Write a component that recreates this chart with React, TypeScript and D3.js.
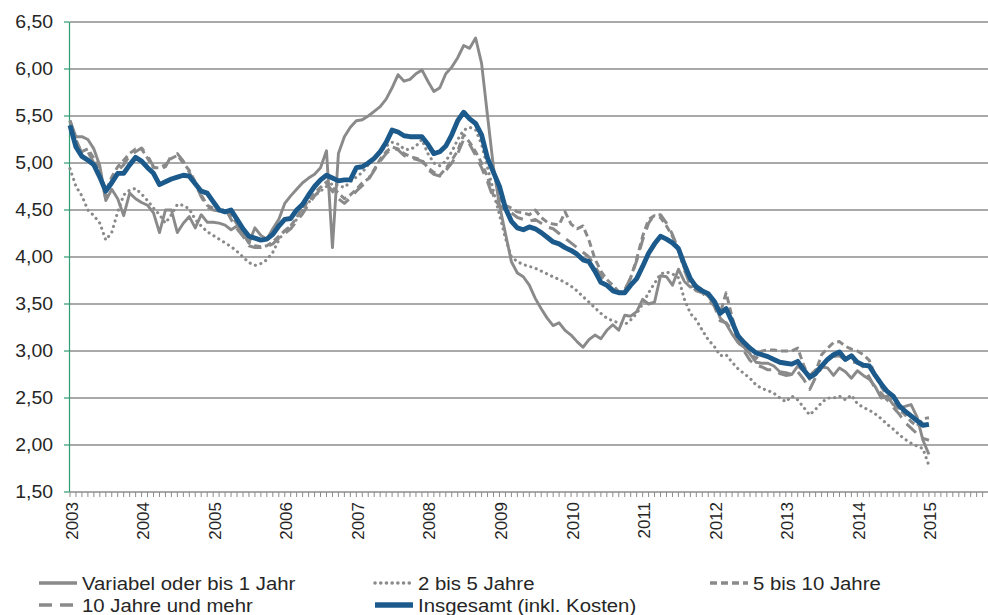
import React from "react";
import * as d3 from "d3";

// Monthly values, Jan 2003 .. Jan 2015 (145 points)
const years = [2003, 2004, 2005, 2006, 2007, 2008, 2009, 2010, 2011, 2012, 2013, 2014, 2015];
const yTicks = [1.5, 2.0, 2.5, 3.0, 3.5, 4.0, 4.5, 5.0, 5.5, 6.0, 6.5];

const variabel = [
  5.45, 5.28, 5.28, 5.25, 5.15, 4.97, 4.60, 4.72, 4.62, 4.44, 4.68, 4.62,
  4.58, 4.55, 4.47, 4.26, 4.50, 4.50, 4.26, 4.36, 4.43, 4.31, 4.45, 4.37,
  4.37, 4.36, 4.34, 4.29, 4.33, 4.25, 4.15, 4.31, 4.23, 4.19, 4.30, 4.40,
  4.57, 4.65, 4.72, 4.79, 4.84, 4.88, 4.95, 5.13, 4.10, 5.10, 5.28, 5.38,
  5.45, 5.46, 5.50, 5.55, 5.60, 5.68, 5.80, 5.94, 5.87, 5.89, 5.95, 5.99,
  5.87, 5.76, 5.80, 5.95, 6.02, 6.12, 6.25, 6.22, 6.33, 6.06, 5.50, 4.95,
  4.55, 4.25, 3.95, 3.83, 3.79, 3.70, 3.56, 3.45, 3.35, 3.27, 3.30, 3.22,
  3.17, 3.10, 3.04, 3.12, 3.17, 3.13, 3.22, 3.28, 3.22, 3.38, 3.37, 3.42,
  3.55, 3.50, 3.52, 3.80, 3.79, 3.70, 3.87, 3.74, 3.68, 3.70, 3.65, 3.58,
  3.52, 3.35, 3.29, 3.18, 3.09, 3.04, 2.97, 2.88, 2.87, 2.87, 2.84, 2.78,
  2.77, 2.75, 2.84, 2.79, 2.74, 2.80, 2.83, 2.82, 2.74, 2.82, 2.78, 2.71,
  2.79, 2.74, 2.70, 2.62, 2.50, 2.52, 2.43, 2.39, 2.41, 2.43, 2.30, 2.05,
  1.90,
];

const zweiBisFuenf = [
  4.94, 4.75, 4.65, 4.50, 4.44, 4.36, 4.18, 4.26, 4.48, 4.66, 4.71, 4.73,
  4.67, 4.60, 4.52, 4.45, 4.36, 4.45, 4.56, 4.55, 4.51, 4.40, 4.33, 4.27,
  4.23, 4.19, 4.15, 4.11, 4.06, 4.00, 3.94, 3.91, 3.93, 3.97, 4.05, 4.18,
  4.28, 4.33, 4.40, 4.50, 4.58, 4.65, 4.70, 4.75, 4.78, 4.76, 4.74, 4.80,
  4.85, 4.90, 4.98, 5.05, 5.12, 5.18, 5.22, 5.20, 5.15, 5.14, 5.18, 5.25,
  5.10, 5.00, 4.97, 5.02, 5.12, 5.25, 5.35, 5.38, 5.35, 5.20, 4.95, 4.70,
  4.45, 4.20, 4.00, 3.95, 3.92, 3.90, 3.88, 3.85, 3.82, 3.79, 3.76, 3.73,
  3.69, 3.64, 3.58, 3.52, 3.46, 3.40, 3.35, 3.32, 3.30, 3.28, 3.33, 3.40,
  3.50, 3.62, 3.72, 3.82, 3.84, 3.82, 3.78, 3.55, 3.40, 3.33, 3.22, 3.12,
  3.05, 2.95, 2.96, 2.88, 2.81, 2.76, 2.71, 2.64, 2.60, 2.58, 2.55, 2.50,
  2.46, 2.52, 2.48, 2.40, 2.32, 2.38, 2.45, 2.50, 2.50, 2.52, 2.48, 2.53,
  2.44, 2.40, 2.37, 2.33, 2.28, 2.22, 2.17, 2.11, 2.06, 2.02, 1.99, 1.96,
  1.78,
];

const fuenfBisZehn = [
  5.45, 5.22, 5.12, 5.15, 5.05, 4.90, 4.70, 4.85, 4.96, 5.03, 5.10, 5.15,
  5.15, 5.05, 4.95, 4.95, 4.98, 5.05, 5.08, 5.00, 4.92, 4.80, 4.66, 4.55,
  4.52, 4.50, 4.50, 4.45, 4.35, 4.25, 4.15, 4.12, 4.11, 4.12, 4.16, 4.22,
  4.28, 4.33, 4.42, 4.52, 4.60, 4.68, 4.74, 4.80, 4.74, 4.68, 4.62, 4.66,
  4.72, 4.79, 4.83, 4.93, 5.04, 5.12, 5.17, 5.15, 5.10, 5.07, 5.05, 5.03,
  4.95, 4.90, 4.87, 4.94, 5.03, 5.13, 5.30, 5.22, 5.12, 5.00, 4.85, 4.65,
  4.62, 4.55, 4.52, 4.48, 4.47, 4.45, 4.50, 4.42, 4.37, 4.35, 4.34, 4.48,
  4.35, 4.30, 4.33, 4.18, 3.98, 3.85, 3.76, 3.70, 3.63, 3.64, 3.78, 3.98,
  4.22, 4.40, 4.44, 4.42, 4.33, 4.22, 4.08, 3.88, 3.72, 3.68, 3.65, 3.58,
  3.50, 3.40, 3.62, 3.36, 3.14, 3.04, 2.98, 2.92, 3.00, 3.01, 3.01, 3.00,
  3.00, 3.00, 3.03, 2.85, 2.70, 2.78, 2.96, 3.03, 3.09, 3.10, 3.05, 3.02,
  3.00, 2.96, 2.90, 2.74, 2.62, 2.52, 2.45, 2.38, 2.32, 2.25, 2.20, 2.28,
  2.29,
];

const zehnUndMehr = [
  5.45, 5.25, 5.10, 5.12, 5.00, 4.88, 4.62, 4.82, 4.92, 4.98, 5.08, 5.12,
  5.16, 5.08, 4.96, 4.93, 4.96, 5.08, 5.10, 5.02, 4.90, 4.78, 4.64, 4.53,
  4.50, 4.49, 4.52, 4.40, 4.30, 4.22, 4.12, 4.10, 4.10, 4.11, 4.14, 4.20,
  4.25, 4.30, 4.38, 4.46, 4.56, 4.65, 4.72, 4.78, 4.70, 4.62, 4.57, 4.63,
  4.70, 4.76, 4.82, 4.92, 5.02, 5.10, 5.16, 5.14, 5.08, 5.05, 5.04, 5.02,
  4.93, 4.88, 4.86, 4.92, 5.00, 5.10, 5.25, 5.20, 5.08, 4.95, 4.80, 4.62,
  4.55, 4.50, 4.47, 4.42, 4.40, 4.38, 4.40, 4.36, 4.32, 4.30, 4.25, 4.20,
  4.15, 4.10, 4.05, 4.00, 3.90, 3.80, 3.72, 3.66, 3.62, 3.65, 3.78, 3.96,
  4.18, 4.36, 4.45, 4.45, 4.36, 4.24, 4.08, 3.86, 3.70, 3.64, 3.62, 3.55,
  3.48, 3.32, 3.30, 3.22, 3.10, 3.00, 2.90, 2.85, 2.83, 2.80, 2.80, 2.76,
  2.74, 2.75, 2.78, 2.70, 2.59, 2.72, 2.82, 2.90, 2.94, 2.95, 2.90, 2.88,
  2.88, 2.83, 2.72, 2.60, 2.55, 2.48, 2.40, 2.33, 2.24, 2.18, 2.12, 2.07,
  2.05,
];

const insgesamt = [
  5.40, 5.17, 5.07, 5.03, 4.98, 4.85, 4.70, 4.79, 4.89, 4.89, 4.98, 5.06,
  5.02, 4.95, 4.89, 4.77, 4.80, 4.83, 4.85, 4.87, 4.86, 4.78, 4.70, 4.68,
  4.59, 4.50, 4.48, 4.50, 4.40, 4.30, 4.22, 4.20, 4.18, 4.19, 4.24, 4.33,
  4.40, 4.41, 4.50, 4.56, 4.66, 4.75, 4.82, 4.87, 4.84, 4.81, 4.82, 4.82,
  4.95, 4.96, 5.00, 5.05, 5.12, 5.22, 5.35, 5.33, 5.29, 5.28, 5.28, 5.28,
  5.20, 5.10, 5.12, 5.18, 5.30, 5.45, 5.54, 5.47, 5.42, 5.30, 5.05, 4.90,
  4.75, 4.52, 4.38, 4.31, 4.29, 4.32, 4.30, 4.26, 4.21, 4.16, 4.14, 4.10,
  4.07, 4.03, 3.97, 3.95, 3.85, 3.73, 3.70, 3.64, 3.62, 3.62, 3.70, 3.77,
  3.90, 4.04, 4.14, 4.22, 4.19, 4.15, 4.09, 3.92, 3.77, 3.68, 3.64, 3.61,
  3.53, 3.40, 3.45, 3.31, 3.16, 3.09, 3.03, 2.98, 2.96, 2.94, 2.91, 2.88,
  2.87, 2.86, 2.89, 2.80, 2.72, 2.76, 2.84, 2.91, 2.96, 2.99, 2.91, 2.95,
  2.88, 2.85, 2.84, 2.74, 2.65, 2.57, 2.52, 2.42, 2.36, 2.31, 2.26, 2.21,
  2.22,
];

const seriesNames = [
  "Variabel oder bis 1 Jahr",
  "2 bis 5 Jahre",
  "5 bis 10 Jahre",
  "10 Jahre und mehr",
  "Insgesamt (inkl. Kosten)",
];

const GRAY = "#8a8a8a";
const BLUE = "#1c5a8c";
const AXIS_GREEN = "#2f9d72";
const FONT = "'Liberation Sans', Arial, sans-serif";

type Style = { color: string; width: number; dash?: string; cap?: "round" | "butt" };
const styles: Style[] = [
  { color: GRAY, width: 2.9 },
  { color: GRAY, width: 3.1, dash: "0.1 5.6", cap: "round" },
  { color: GRAY, width: 3, dash: "7 4" },
  { color: GRAY, width: 3, dash: "13 8" },
  { color: BLUE, width: 4.9 },
];

export default function App() {
  const W = 988;
  const H = 615;
  const x = d3.scaleLinear().domain([0, 153.9]).range([70, 988]);
  const y = d3.scaleLinear().domain([1.5, 6.5]).range([492, 22]);
  const line = d3
    .line<number>()
    .x((_, i) => x(i))
    .y((d) => y(d));

  const data = [variabel, zweiBisFuenf, fuenfBisZehn, zehnUndMehr, insgesamt];
  const fmt = (v: number) => v.toFixed(2).replace(".", ",");
  const monthTicks = d3.range(0, 154);

  const legendPos = [
    { lx: 39, ty: 583 },
    { lx: 375, ty: 583 },
    { lx: 710, ty: 583 },
    { lx: 39, ty: 605 },
    { lx: 375, ty: 605 },
  ];

  return (
    <svg
      width={W}
      height={H}
      style={{ position: "absolute", left: 0, top: 0, background: "#fff" }}
      fontFamily={FONT}
    >
      {/* gridlines */}
      {yTicks.map((t) => (
        <line key={t} x1={70} x2={988} y1={y(t)} y2={y(t)} stroke="#8c8c8c" strokeWidth={1.3} />
      ))}
      {/* y axis */}
      <line x1={69.5} x2={69.5} y1={y(6.5)} y2={y(1.5)} stroke={AXIS_GREEN} strokeWidth={1.2} />
      {yTicks.map((t) => (
        <line key={"yt" + t} x1={64} x2={69.5} y1={y(t)} y2={y(t)} stroke={AXIS_GREEN} strokeWidth={1.2} />
      ))}
      {yTicks.map((t) => (
        <text
          key={"yl" + t}
          transform={`translate(53,${y(t)}) scale(1.08,1)`}
          textAnchor="end"
          dominantBaseline="central"
          fontSize={18}
          fill="#262626"
        >
          {fmt(t)}
        </text>
      ))}
      {/* x axis minor ticks */}
      {monthTicks.map((i) => (
        <line key={"xt" + i} x1={x(i)} x2={x(i)} y1={492} y2={497} stroke="#8c8c8c" strokeWidth={1} />
      ))}
      {years.map((yr, k) => (
        <text
          key={"xl" + yr}
          transform={`translate(${x(k * 12) + 2},502) rotate(-90)`}
          textAnchor="end"
          dominantBaseline="central"
          fontSize={17}
          fill="#262626"
        >
          {yr}
        </text>
      ))}
      {/* series */}
      {data.map((s, k) => (
        <path
          key={"s" + k}
          d={line(s) || ""}
          fill="none"
          stroke={styles[k].color}
          strokeWidth={styles[k].width}
          strokeDasharray={styles[k].dash}
          strokeLinecap={styles[k].cap || "butt"}
          strokeLinejoin="round"
        />
      ))}
      {/* legend */}
      {seriesNames.map((name, k) => (
        <g key={"lg" + k}>
          <line
            x1={legendPos[k].lx}
            x2={legendPos[k].lx + 38}
            y1={legendPos[k].ty}
            y2={legendPos[k].ty}
            stroke={styles[k].color}
            strokeWidth={styles[k].width + 0.4}
            strokeDasharray={styles[k].dash}
            strokeLinecap={styles[k].cap || "butt"}
          />
          <text
            transform={`translate(${legendPos[k].lx + 43},${legendPos[k].ty}) scale(1.1,1)`}
            dominantBaseline="central"
            fontSize={18.5}
            fill="#262626"
          >
            {name}
          </text>
        </g>
      ))}
    </svg>
  );
}
